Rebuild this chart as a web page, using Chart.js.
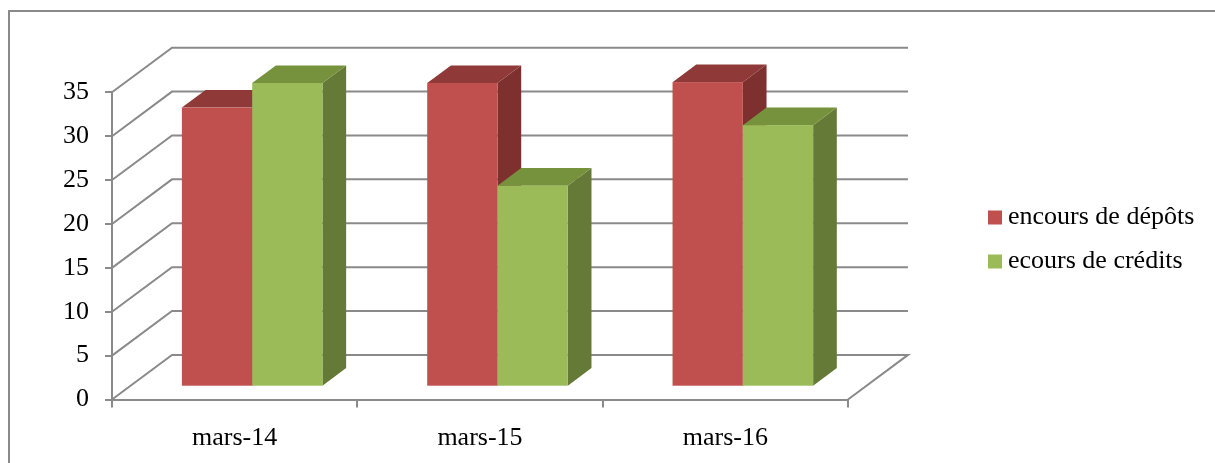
<!DOCTYPE html>
<html>
<head>
<meta charset="utf-8">
<script src="https://cdn.jsdelivr.net/npm/chart.js@4/dist/chart.umd.min.js"></script>
<style>
  html, body { margin: 0; padding: 0; background: #fff; }
</style>
</head>
<body>
<canvas id="barChart" width="1215" height="463"></canvas>
<script>
// données
const categories = ['mars-14', 'mars-15', 'mars-16'];
const encoursDepots = [31.8, 34.6, 34.7];
const encoursCredits = [34.6, 22.9, 29.8];
const seriesNames = ['encours de dépôts', 'ecours de crédits'];
const yTicks = [0, 5, 10, 15, 20, 25, 30, 35];

const GRIS = '#8a8a8a';
const POLICE = { family: "'Liberation Serif', 'Times New Roman', serif", size: 26 };
const PROF = { dx: 60, dy: -44.6 };                        // profondeur du sol / mur
const BARRE = { ox: 17.5, oy: -12.8, dx: 23.7, dy: -17.6 }; // position et épaisseur des barres

// mur du fond, sol, barres en 3D et légende
const decor3d = {
  id: 'decor3d',
  beforeDraw(chart) {
    const { ctx, chartArea: a, scales: { y } } = chart;
    ctx.save();
    ctx.strokeStyle = GRIS;
    ctx.lineWidth = 2;
    // cadre
    ctx.beginPath();
    ctx.moveTo(9, chart.height + 5);
    ctx.lineTo(9, 11);
    ctx.lineTo(chart.width + 5, 11);
    ctx.stroke();
    // quadrillage du mur
    y.ticks.forEach(t => {
      const py = y.getPixelForValue(t.value);
      ctx.beginPath();
      ctx.moveTo(a.left, py);
      ctx.lineTo(a.left + PROF.dx, py + PROF.dy);
      ctx.lineTo(a.right + PROF.dx, py + PROF.dy);
      if (t.value === 0) ctx.lineTo(a.right, py);
      ctx.stroke();
    });
    ctx.restore();
  },
  beforeDatasetDraw() {
    return false; // on dessine les barres nous-mêmes
  },
  afterDatasetsDraw(chart) {
    const { ctx } = chart;
    ctx.save();
    for (let i = 0; i < chart.data.labels.length; i++) {
      chart.data.datasets.forEach((ds, d) => {
        const el = chart.getDatasetMeta(d).data[i];
        const { x, y, base, width } = el.getProps(['x', 'y', 'base', 'width'], true);
        const l = x - width / 2 + BARRE.ox;
        const r = x + width / 2 + BARRE.ox;
        const t = y + BARRE.oy;
        const b = base + BARRE.oy;
        // côté
        ctx.fillStyle = ds.sideColor;
        ctx.beginPath();
        ctx.moveTo(r, t);
        ctx.lineTo(r + BARRE.dx, t + BARRE.dy);
        ctx.lineTo(r + BARRE.dx, b + BARRE.dy);
        ctx.lineTo(r, b);
        ctx.closePath();
        ctx.fill();
        // dessus
        ctx.fillStyle = ds.topColor;
        ctx.beginPath();
        ctx.moveTo(l, t);
        ctx.lineTo(l + BARRE.dx, t + BARRE.dy);
        ctx.lineTo(r + BARRE.dx, t + BARRE.dy);
        ctx.lineTo(r, t);
        ctx.closePath();
        ctx.fill();
        // face
        ctx.fillStyle = ds.backgroundColor;
        ctx.fillRect(l, t, r - l, b - t);
      });
    }
    ctx.restore();
  },
  afterDraw(chart) {
    const { ctx } = chart;
    ctx.save();
    ctx.font = POLICE.size + 'px ' + POLICE.family;
    ctx.textBaseline = 'alphabetic';
    chart.data.datasets.forEach((ds, d) => {
      const ligne = 224 + d * 44;
      ctx.fillStyle = ds.backgroundColor;
      ctx.fillRect(988, ligne - 13.5, 14, 14);
      ctx.fillStyle = '#000';
      ctx.fillText(ds.label, 1008, ligne);
    });
    ctx.restore();
  }
};

new Chart(document.getElementById('barChart'), {
  type: 'bar',
  data: {
    labels: categories,
    datasets: [{
      label: seriesNames[0],
      data: encoursDepots,
      backgroundColor: '#C0504D',
      topColor: '#8F3A38',
      sideColor: '#7E302F'
    }, {
      label: seriesNames[1],
      data: encoursCredits,
      backgroundColor: '#9BBB59',
      topColor: '#77923C',
      sideColor: '#667A37'
    }]
  },
  options: {
    responsive: false,
    animation: false,
    devicePixelRatio: 1,
    barPercentage: 1,
    categoryPercentage: 0.573,
    layout: { padding: { top: 92.3, right: 367, left: 0, bottom: 0 } },
    plugins: {
      legend: { display: false },
      tooltip: { enabled: false }
    },
    scales: {
      x: {
        grid: { offset: true, drawOnChartArea: false, tickLength: 8, color: GRIS, lineWidth: 2 },
        border: { color: GRIS, width: 2 },
        ticks: { font: POLICE, color: '#000', padding: 15, maxRotation: 0 },
        afterFit(s) { s.height = 463 - 399.5; }
      },
      y: {
        min: 0,
        max: 35,
        afterBuildTicks(s) { s.ticks = yTicks.map(v => ({ value: v })); },
        grid: { drawOnChartArea: false, tickLength: 7, color: GRIS, lineWidth: 2 },
        border: { color: GRIS, width: 2 },
        ticks: { font: POLICE, color: '#000', padding: 16 },
        afterFit(s) { s.width = 112; }
      }
    }
  },
  plugins: [decor3d]
});
</script>
</body>
</html>
